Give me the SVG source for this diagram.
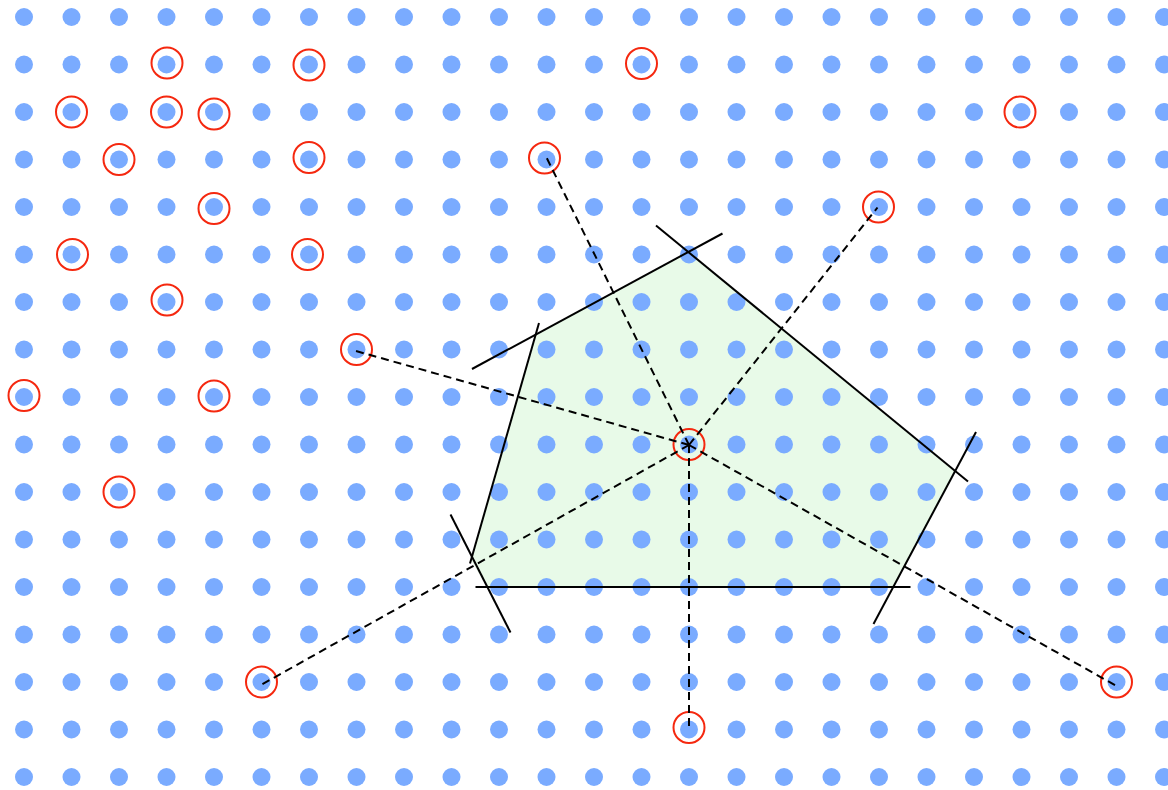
<svg xmlns="http://www.w3.org/2000/svg" xmlns:xlink="http://www.w3.org/1999/xlink" width="1168" height="790" viewBox="0 0 1168 790">
<style>
.dot{fill:#7aabff}
.mark{fill:none;stroke:#f5280f;stroke-width:2}
.edge{stroke:#000;stroke-width:2;fill:none}
.link{stroke:#000;stroke-width:2;stroke-dasharray:8,5;fill:none}
.cell{fill:#e8fae8;stroke:none}
</style>
<defs>
<g id="row">
<circle class="dot" cx="24" cy="0" r="9"/><circle class="dot" cx="71.5" cy="0" r="9"/><circle class="dot" cx="119" cy="0" r="9"/><circle class="dot" cx="166.5" cy="0" r="9"/><circle class="dot" cx="214" cy="0" r="9"/><circle class="dot" cx="261.5" cy="0" r="9"/><circle class="dot" cx="309" cy="0" r="9"/><circle class="dot" cx="356.5" cy="0" r="9"/><circle class="dot" cx="404" cy="0" r="9"/><circle class="dot" cx="451.5" cy="0" r="9"/><circle class="dot" cx="499" cy="0" r="9"/><circle class="dot" cx="546.5" cy="0" r="9"/><circle class="dot" cx="594" cy="0" r="9"/><circle class="dot" cx="641.5" cy="0" r="9"/><circle class="dot" cx="689" cy="0" r="9"/><circle class="dot" cx="736.5" cy="0" r="9"/><circle class="dot" cx="784" cy="0" r="9"/><circle class="dot" cx="831.5" cy="0" r="9"/><circle class="dot" cx="879" cy="0" r="9"/><circle class="dot" cx="926.5" cy="0" r="9"/><circle class="dot" cx="974" cy="0" r="9"/><circle class="dot" cx="1021.5" cy="0" r="9"/><circle class="dot" cx="1069" cy="0" r="9"/><circle class="dot" cx="1116.5" cy="0" r="9"/><circle class="dot" cx="1164" cy="0" r="9"/>
</g>
</defs>
<rect width="1168" height="790" fill="#fff"/>
<g id="cell">
<polygon class="cell" points="688,252 955,472 893,587 487,587 471,560 536,334"/>
</g>
<g id="grid">
<use xlink:href="#row" y="17"/><use xlink:href="#row" y="64.5"/><use xlink:href="#row" y="112"/><use xlink:href="#row" y="159.5"/><use xlink:href="#row" y="207"/><use xlink:href="#row" y="254.5"/><use xlink:href="#row" y="302"/><use xlink:href="#row" y="349.5"/><use xlink:href="#row" y="397"/><use xlink:href="#row" y="444.5"/><use xlink:href="#row" y="492"/><use xlink:href="#row" y="539.5"/><use xlink:href="#row" y="587"/><use xlink:href="#row" y="634.5"/><use xlink:href="#row" y="682"/><use xlink:href="#row" y="729.5"/><use xlink:href="#row" y="777"/>
</g>
<g id="edges">
<line class="edge" x1="472" y1="369" x2="722.5" y2="233.5"/>
<line class="edge" x1="656" y1="225.5" x2="968" y2="481.5"/>
<line class="edge" x1="539" y1="323" x2="470" y2="563.5"/>
<line class="edge" x1="450.5" y1="514.5" x2="510.5" y2="632.5"/>
<line class="edge" x1="475.5" y1="587" x2="910.5" y2="587"/>
<line class="edge" x1="976" y1="432" x2="873.5" y2="624"/>
</g>
<g id="marks">
<circle class="mark" cx="167" cy="63" r="15.5"/>
<circle class="mark" cx="309" cy="65" r="15.5"/>
<circle class="mark" cx="641.5" cy="63.5" r="15.5"/>
<circle class="mark" cx="71.5" cy="112" r="15.5"/>
<circle class="mark" cx="166.5" cy="112" r="15.5"/>
<circle class="mark" cx="214" cy="114" r="15.5"/>
<circle class="mark" cx="1020" cy="112" r="15.5"/>
<circle class="mark" cx="119" cy="159.5" r="15.5"/>
<circle class="mark" cx="309" cy="157.5" r="15.5"/>
<circle class="mark" cx="544.5" cy="158" r="15.5"/>
<circle class="mark" cx="214" cy="208.5" r="15.5"/>
<circle class="mark" cx="878.5" cy="207" r="15.5"/>
<circle class="mark" cx="72.5" cy="254.5" r="15.5"/>
<circle class="mark" cx="307.5" cy="254.5" r="15.5"/>
<circle class="mark" cx="167" cy="300" r="15.5"/>
<circle class="mark" cx="356.5" cy="349.5" r="15.5"/>
<circle class="mark" cx="24" cy="395.5" r="15.5"/>
<circle class="mark" cx="214" cy="396" r="15.5"/>
<circle class="mark" cx="689" cy="444.5" r="15.5"/>
<circle class="mark" cx="119" cy="492" r="15.5"/>
<circle class="mark" cx="261.5" cy="682" r="15.5"/>
<circle class="mark" cx="689" cy="727.5" r="15.5"/>
<circle class="mark" cx="1116.5" cy="682" r="15.5"/>
</g>
<g id="connectors">
<line class="link" x1="689" y1="445" x2="545.5" y2="155.5"/>
<line class="link" x1="689" y1="445" x2="877.5" y2="207.5"/>
<line class="link" x1="689" y1="445" x2="356" y2="351"/>
<line class="link" x1="689" y1="445" x2="260" y2="685.5"/>
<line class="link" x1="689" y1="445" x2="689" y2="729"/>
<line class="link" x1="689" y1="445" x2="1116.5" y2="686"/>
</g>
</svg>
